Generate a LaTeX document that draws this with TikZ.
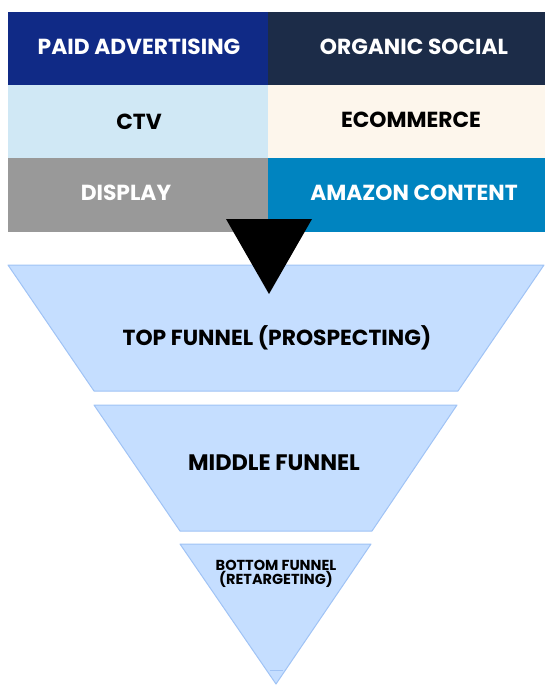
\documentclass[tikz,border=0pt]{standalone}
\usepackage{fontspec}
\setmainfont{Poppins}
\usetikzlibrary{positioning}
\definecolor{PaidBlue}{RGB}{16,42,134}
\definecolor{OrganicNavy}{RGB}{28,44,72}
\definecolor{CtvBlue}{RGB}{208,232,245}
\definecolor{EcomCream}{RGB}{253,246,236}
\definecolor{DisplayGray}{RGB}{153,153,153}
\definecolor{AmazonBlue}{RGB}{0,132,192}
\definecolor{FunnelFill}{RGB}{197,222,255}
\definecolor{FunnelEdge}{RGB}{160,195,245}
\begin{document}
\begin{tikzpicture}[x=1pt,y=-1pt,
    label/.style={font=\bfseries\fontsize{21.8}{23}\selectfont,inner sep=0pt},
    funnel/.style={fill=FunnelFill,draw=FunnelEdge,line width=1pt,line join=round}]
      \useasboundingbox (0,0) rectangle (559,688);
      % channel grid
      \fill[PaidBlue] (8,12) rectangle (268,85);
      \fill[OrganicNavy] (268,12) rectangle (545,85);
      \fill[CtvBlue] (8,85) rectangle (268,158);
      \fill[EcomCream] (268,85) rectangle (545,158);
      \fill[DisplayGray] (8,158) rectangle (268,232);
      \fill[AmazonBlue] (268,158) rectangle (545,232);
      \node[label,white] (paid) at (139,47) {PAID ADVERTISING};
      \node[label,white] (organic) at (414,47) {ORGANIC SOCIAL};
      \node[label,black] (ctv) at (139,122) {CTV};
      \node[label,black] (ecom) at (411,120) {ECOMMERCE};
      \node[label,white] (display) at (126,193) {DISPLAY};
      \node[label,white] (amazon) at (414,193) {AMAZON CONTENT};
      % funnel
      \filldraw[funnel] (8,265) -- (544,265) -- (458,391) -- (94,391) -- cycle;
      \filldraw[funnel] (94,405) -- (457,405) -- (372,531) -- (180,531) -- cycle;
      \filldraw[funnel] (180,544) -- (371,544) -- (276,684) -- cycle;
      \draw[FunnelEdge,line width=0.8pt] (270,670) -- (283,670);
      \fill[black] (226,219) -- (312,219) -- (269,294) -- cycle;
      \node[label] (top) at (277,338) {TOP FUNNEL (PROSPECTING)};
      \node[label,font=\bfseries\fontsize{22.4}{23}\selectfont] (middle) at (274,463) {MIDDLE FUNNEL};
      \node[label,font=\bfseries\fontsize{14.5}{13}\selectfont,align=center] (bottom) at (276,574)
        {BOTTOM FUNNEL\\ (RETARGETING)};
\end{tikzpicture}
\end{document}
